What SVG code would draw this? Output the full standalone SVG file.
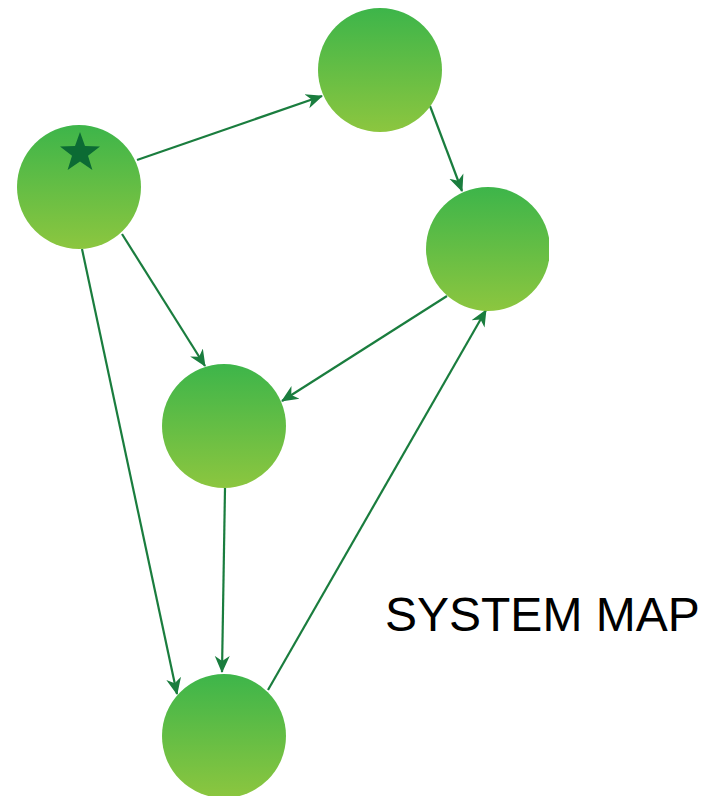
<svg xmlns="http://www.w3.org/2000/svg" width="710" height="796" viewBox="0 0 710 796">
  <style>
    .node { fill: url(#nodeFill); }
    .edge { stroke: #1a7d3e; stroke-width: 2.2; fill: none; marker-end: url(#arrow); }
    .label { font-family: "Liberation Sans", Arial, sans-serif; font-size: 48px; fill: #000; }
  </style>
  <defs>
    <linearGradient id="nodeFill" x1="0" y1="0" x2="0" y2="1">
      <stop offset="0" stop-color="#3db54a"/>
      <stop offset="1" stop-color="#8cc63f"/>
    </linearGradient>
    <marker id="arrow" viewBox="0 0 17 17" refX="16" refY="8.5" markerWidth="17" markerHeight="17" markerUnits="userSpaceOnUse" orient="auto">
      <path d="M0,1 L17,8.5 L0,16 L5,8.5 Z" fill="#1a7d3e"/>
    </marker>
    <clipPath id="frame">
      <rect x="0" y="0" width="549" height="796"/>
    </clipPath>
  </defs>

  <g id="connectors">
    <line class="edge" x1="137" y1="160" x2="322" y2="96"/>
    <line class="edge" x1="430" y1="106" x2="462" y2="191"/>
    <line class="edge" x1="122" y1="234" x2="205" y2="366"/>
    <line class="edge" x1="447" y1="296" x2="282" y2="401"/>
    <line class="edge" x1="82" y1="249" x2="177" y2="694"/>
    <line class="edge" x1="225" y1="488" x2="222" y2="672"/>
    <line class="edge" x1="268" y1="690" x2="486" y2="310"/>
  </g>

  <g id="node-start">
    <circle class="node" cx="79" cy="187" r="62"/>
    <polygon fill="#0c6b34" points="80,132 85,146 100,146.5 88,155.7 92.4,170 80,161.5 67.6,170 72,155.7 60,146.5 75,146"/>
  </g>
  <g id="node-top">
    <circle class="node" cx="380" cy="70" r="62"/>
  </g>
  <g id="node-right">
    <circle class="node" cx="488" cy="249" r="62" clip-path="url(#frame)"/>
  </g>
  <g id="node-middle">
    <circle class="node" cx="224" cy="426" r="62"/>
  </g>
  <g id="node-bottom">
    <circle class="node" cx="224" cy="736" r="62"/>
  </g>

  <text class="label" x="385" y="631">SYSTEM MAP</text>
</svg>
